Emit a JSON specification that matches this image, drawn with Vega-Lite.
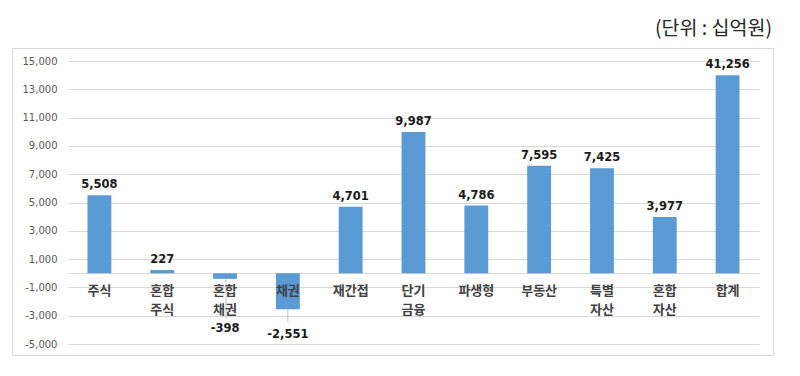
{
  "$schema": "https://vega.github.io/schema/vega-lite/v6.json",
  "autosize": {"type": "none"},
  "padding": {"left": 12, "top": 48, "right": 27, "bottom": 21},
  "width": 761,
  "height": 307,
  "background": "white",
  "title": {
    "text": "(단위 : 십억원)",
    "anchor": "end",
    "frame": "group",
    "dx": -1,
    "offset": 9,
    "fontSize": 19.5,
    "fontWeight": "normal",
    "color": "#262626",
    "font": "Noto Sans CJK KR"
  },
  "config": {
    "view": {"stroke": "#d9d9d9", "strokeWidth": 1},
    "font": "DejaVu Sans",
    "axisY": {"labelOverlap": false},
    "locale": {"number": {"decimal": ".", "thousands": ",", "grouping": [3], "currency": ["", ""], "minus": "-"}}
  },
  "data": {
    "values": [
      {"name": "주식", "v": 5508, "h": 5508},
      {"name": "혼합\n주식", "v": 227, "h": 227},
      {"name": "혼합\n채권", "v": -398, "h": -398},
      {"name": "채권", "v": -2551, "h": -2551},
      {"name": "재간접", "v": 4701, "h": 4701},
      {"name": "단기\n금융", "v": 9987, "h": 9987},
      {"name": "파생형", "v": 4786, "h": 4786},
      {"name": "부동산", "v": 7595, "h": 7595},
      {"name": "특별\n자산", "v": 7425, "h": 7425},
      {"name": "혼합\n자산", "v": 3977, "h": 3977},
      {"name": "합계", "v": 41256, "h": 14000}
    ]
  },
  "encoding": {
    "x": {
      "field": "name",
      "type": "nominal",
      "sort": null,
      "scale": {"range": [56, 747], "paddingInner": 0.62, "paddingOuter": 0.31},
      "axis": {
        "orient": "bottom",
        "offset": -82,
        "labels": false,
        "ticks": false,
        "domain": true,
        "domainColor": "#d9d9d9",
        "grid": false,
        "title": null
      }
    },
    "y": {
      "field": "h",
      "type": "quantitative",
      "scale": {"domain": [-5000, 15000], "range": [296, 13], "nice": false, "zero": false},
      "axis": {
        "values": [-5000, -3000, -1000, 1000, 3000, 5000, 7000, 9000, 11000, 13000, 15000],
        "format": ",d",
        "labelOverlap": false,
        "grid": true,
        "gridColor": "#d9d9d9",
        "domain": false,
        "ticks": false,
        "offset": -48,
        "labelPadding": 3,
        "labelColor": "#595959",
        "labelFontSize": 10,
        "labelFont": "DejaVu Sans",
        "title": null
      }
    }
  },
  "layer": [
    {
      "mark": {"type": "bar", "color": "#5b9bd5"}
    },
    {
      "transform": [{"filter": "datum.v > 0"}],
      "mark": {"type": "text", "baseline": "bottom", "dy": -5, "fontWeight": "bold", "fontSize": 11.5, "color": "#1a1a1a"},
      "encoding": {
        "text": {"field": "v", "type": "quantitative", "format": ",d"}
      }
    },
    {
      "transform": [{"filter": "datum.v == -398"}],
      "mark": {"type": "text", "baseline": "middle", "dy": 50, "fontWeight": "bold", "fontSize": 11.5, "color": "#1a1a1a"},
      "encoding": {
        "text": {"field": "v", "type": "quantitative", "format": ",d"}
      }
    },
    {
      "transform": [{"filter": "datum.v == -2551"}],
      "mark": {"type": "text", "baseline": "middle", "dy": 26, "fontWeight": "bold", "fontSize": 11.5, "color": "#1a1a1a"},
      "encoding": {
        "text": {"field": "v", "type": "quantitative", "format": ",d"}
      }
    },
    {
      "transform": [{"filter": "datum.v == -398"}],
      "mark": {"type": "tick", "orient": "vertical", "size": 39, "thickness": 1, "yOffset": 20, "color": "#a6a6a6", "xOffset": 1}
    },
    {
      "transform": [{"filter": "datum.v == -2551"}],
      "mark": {"type": "tick", "orient": "vertical", "size": 13, "thickness": 1, "yOffset": 6.5, "color": "#a6a6a6"}
    },
    {
      "mark": {"type": "text", "baseline": "middle", "dy": 18, "lineBreak": "\n", "lineHeight": 19, "font": "Noto Sans CJK KR", "fontWeight": "bold", "fontSize": 13, "color": "#404040"},
      "encoding": {
        "y": {"datum": 0},
        "text": {"field": "name", "type": "nominal"}
      }
    }
  ]
}
